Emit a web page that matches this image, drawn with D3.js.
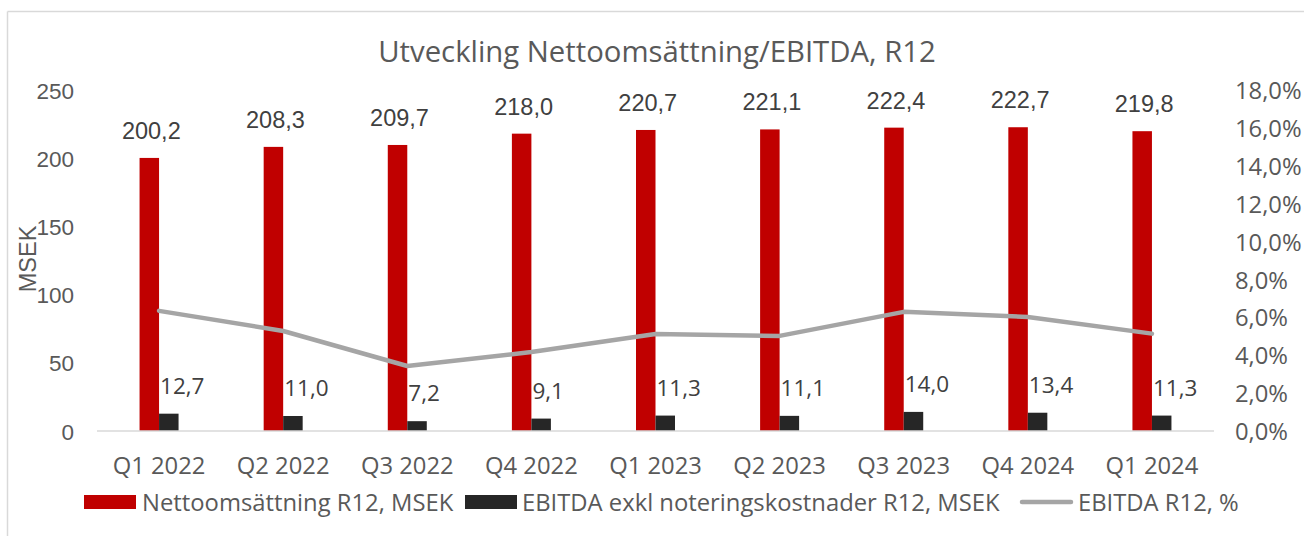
<!DOCTYPE html>
<html>
<head>
<meta charset="utf-8">
<script src="https://cdn.jsdelivr.net/npm/d3@7"></script>
<style>
html,body{margin:0;padding:0;background:#fff;}
svg{display:block;}
</style>
</head>
<body>
<svg id="chart" width="1304" height="536"></svg>
<script>
const categories = ["Q1 2022","Q2 2022","Q3 2022","Q4 2022","Q1 2023","Q2 2023","Q3 2023","Q4 2024","Q1 2024"];
const netSales = [200.2, 208.3, 209.7, 218.0, 220.7, 221.1, 222.4, 222.7, 219.8];
const ebitda = [12.7, 11.0, 7.2, 9.1, 11.3, 11.1, 14.0, 13.4, 11.3];
const ebitdaPct = [0.0634, 0.0528, 0.0343, 0.0417, 0.0512, 0.0502, 0.0629, 0.0602, 0.0514];
const leftTicks = [0, 50, 100, 150, 200, 250];
const rightTicks = [0, 0.02, 0.04, 0.06, 0.08, 0.10, 0.12, 0.14, 0.16, 0.18];
const seriesNames = ["Nettoomsättning R12, MSEK", "EBITDA exkl noteringskostnader R12, MSEK", "EBITDA R12, %"];
const title = "Utveckling Nettoomsättning/EBITDA, R12";
const yLabel = "MSEK";

const svg = d3.select("#chart");
const fmt1 = v => v.toFixed(1).replace(".", ",");
const fmtPct = v => (v*100).toFixed(1).replace(".", ",") + "%";

const OPEN = "'Open Sans', sans-serif";
const ARIAL = "'Liberation Sans', Arial, sans-serif";
const FS = 23.8;

// border
svg.append("line").attr("x1",7.5).attr("y1",11.5).attr("x2",1304).attr("y2",11.5).attr("stroke","#d9d9d9").attr("stroke-width",1.5);
svg.append("line").attr("x1",7.5).attr("y1",11.5).attr("x2",7.5).attr("y2",536).attr("stroke","#d9d9d9").attr("stroke-width",1.5);

const x = d3.scaleBand().domain(categories).range([97, 1214]).padding(0);
const yL = d3.scaleLinear().domain([0, 250]).range([431, 90]);
const yR = d3.scaleLinear().domain([0, 0.18]).range([431, 90]);
const barW = 19.5;
const cx = c => x(c) + x.bandwidth()/2;

// title
svg.append("text").attr("x", 657).attr("y", 51).attr("text-anchor","middle").attr("dominant-baseline","central")
  .attr("font-family", OPEN).attr("font-size", 29.3).attr("fill", "#595959").text(title);

// left axis
const gL = svg.append("g").attr("transform","translate(74,0)")
  .call(d3.axisLeft(yL).tickValues(leftTicks).tickSize(0).tickPadding(0).tickFormat(d => d));
gL.select(".domain").remove();
gL.selectAll("text").attr("font-family", ARIAL).attr("font-size", 22.5).attr("fill","#595959").attr("dy","0.36em");

// right axis
const gR = svg.append("g").attr("transform","translate(1235,0)")
  .call(d3.axisRight(yR).tickValues(rightTicks).tickSize(0).tickPadding(0).tickFormat(fmtPct));
gR.select(".domain").remove();
gR.selectAll("text").attr("font-family", OPEN).attr("font-size", FS).attr("fill","#595959").attr("dy","0.36em");

// y label
svg.append("text").attr("transform","translate(36,259) rotate(-90)").attr("text-anchor","middle")
  .attr("font-family", ARIAL).attr("font-size", 23.5).attr("fill","#595959").text(yLabel);

// bars
svg.append("g").selectAll("rect").data(categories).join("rect")
  .attr("x", c => cx(c) - barW).attr("width", barW)
  .attr("y", (c,i) => yL(netSales[i])).attr("height", (c,i) => yL(0) - yL(netSales[i]))
  .attr("fill", "#c00000");
svg.append("g").selectAll("rect").data(categories).join("rect")
  .attr("x", c => cx(c)).attr("width", barW)
  .attr("y", (c,i) => yL(ebitda[i])).attr("height", (c,i) => yL(0) - yL(ebitda[i]))
  .attr("fill", "#262626");

// x axis line
const gX = svg.append("g").attr("transform","translate(0,431)")
  .call(d3.axisBottom(x).tickSize(0).tickPadding(0));
gX.select(".domain").attr("stroke","#d9d9d9").attr("stroke-width",1.5).attr("d","M97,0H1214");
gX.selectAll("text").attr("y", 34).attr("dy","0.36em").attr("font-family", OPEN).attr("font-size", FS).attr("fill","#595959");

// line
const line = d3.line().x((d,i) => cx(categories[i])).y(d => yR(d));
svg.append("path").datum(ebitdaPct).attr("d", line).attr("fill","none")
  .attr("stroke","#a5a5a5").attr("stroke-width",4.5).attr("stroke-linejoin","round").attr("stroke-linecap","round");

// data labels
svg.append("g").selectAll("text").data(categories).join("text")
  .attr("x", c => cx(c) - barW/2 + 2).attr("y", (c,i) => yL(netSales[i]) - 19)
  .attr("text-anchor","middle").attr("font-family", ARIAL).attr("font-size", 23.5).attr("fill","#404040")
  .text((c,i) => fmt1(netSales[i]));
svg.append("g").selectAll("text").data(categories).join("text")
  .attr("x", c => cx(c) + 1).attr("y", (c,i) => yL(ebitda[i]) - 20)
  .attr("text-anchor","start").attr("font-family", OPEN).attr("font-size", 22.5).attr("fill","#404040")
  .text((c,i) => fmt1(ebitda[i]));

// legend
const lg = svg.append("g").attr("font-family", OPEN).attr("font-size", FS).attr("fill","#595959");
lg.append("rect").attr("x",84).attr("y",495).attr("width",52).attr("height",14).attr("fill","#c00000");
lg.append("text").attr("x",142).attr("y",502).attr("dy","0.36em").text(seriesNames[0]);
lg.append("rect").attr("x",465).attr("y",495).attr("width",52).attr("height",14).attr("fill","#262626");
lg.append("text").attr("x",522).attr("y",502).attr("dy","0.36em").text(seriesNames[1]);
lg.append("line").attr("x1",1022).attr("x2",1071).attr("y1",502).attr("y2",502).attr("stroke","#a5a5a5").attr("stroke-width",4.5).attr("stroke-linecap","round");
lg.append("text").attr("x",1078).attr("y",502).attr("dy","0.36em").text(seriesNames[2]);
</script>
</body>
</html>
